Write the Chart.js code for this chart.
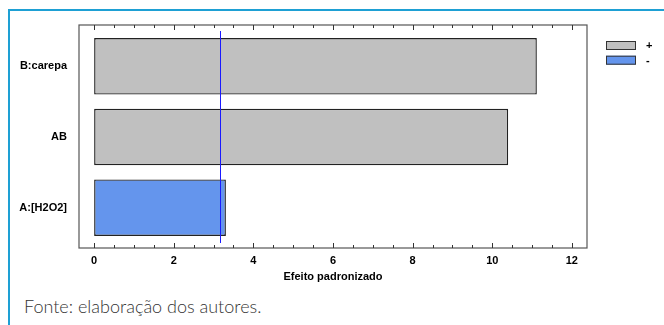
<!DOCTYPE html>
<html>
<head>
<meta charset="utf-8">
<script src="https://cdn.jsdelivr.net/npm/chart.js@4.4.0/dist/chart.umd.min.js"></script>
<style>
  html, body { margin: 0; padding: 0; background: #fff; }
  #wrap { position: relative; width: 664px; height: 325px; overflow: hidden; }
  #frame { position: absolute; left: 8px; top: 9px; width: 700px; height: 400px;
           border-top: 2px solid #1ea0d4; border-left: 2px solid #1ea0d4; }
  #chart { position: absolute; left: 0; top: 0; }
  #fonte { position: absolute; left: 24px; top: 295px; font-family: Lato, "Open Sans", sans-serif;
           font-weight: 300; font-size: 18px; color: #333; }
</style>
</head>
<body>
<div id="wrap">
  <div id="frame"></div>
  <canvas id="chart" width="664" height="284"></canvas>
  <div id="fonte">Fonte: elaboração dos autores.</div>
</div>
<script>
// categories + standardized effects
const factors = ['B:carepa', 'AB', 'A:[H2O2]'];
const effects = [11.12, 10.40, 3.31];
const signs = ['+', '+', '-'];
const xTicks = [0, 2, 4, 6, 8, 10, 12];
const criticalValue = 3.17;

const signColors = { '+': '#c0c0c0', '-': '#6495ed' };
const labelFont = { family: '"Liberation Sans", Arial, sans-serif', size: 11, weight: 'bold' };

// frame box, ticks, critical line and legend
const paretoFrame = {
  id: 'paretoFrame',
  afterDatasetsDraw(chart) {
    const { ctx, chartArea: a, scales: { x } } = chart;
    const top = a.top - 6, bottom = a.bottom + 5;
    ctx.save();
    // critical value line
    const lx = Math.round(x.getPixelForValue(criticalValue)) + 0.5;
    ctx.strokeStyle = '#1a1aff';
    ctx.lineWidth = 1;
    ctx.beginPath();
    ctx.moveTo(lx, a.top);
    ctx.lineTo(lx, a.bottom);
    ctx.stroke();

    // box
    ctx.strokeStyle = '#555';
    ctx.lineWidth = 1.2;
    ctx.strokeRect(a.left, top, a.right - a.left, bottom - top);

    // ticks top and bottom
    ctx.strokeStyle = '#333';
    ctx.lineWidth = 1;
    for (let v = 0; v <= 12; v += 0.5) {
      const px = Math.round(x.getPixelForValue(v)) + 0.5;
      const len = (v % 2 === 0) ? 5 : 3;
      ctx.beginPath();
      ctx.moveTo(px, bottom);
      ctx.lineTo(px, bottom - len);
      ctx.moveTo(px, top);
      ctx.lineTo(px, top + len);
      ctx.stroke();
    }

    // legend
    ctx.font = 'bold 11px "Liberation Sans", Arial, sans-serif';
    ctx.textBaseline = 'middle';
    ['+', '-'].forEach((s, i) => {
      const y = 41 + i * 14.7;
      ctx.fillStyle = signColors[s];
      ctx.fillRect(606, y, 30, 9);
      ctx.strokeStyle = '#333';
      ctx.lineWidth = 1;
      ctx.strokeRect(606.5, y + 0.5, 29, 8);
      ctx.fillStyle = '#000';
      ctx.fillText(s, 646, y + 5);
    });
    ctx.restore();
  }
};

new Chart(document.getElementById('chart'), {
  type: 'bar',
  data: {
    labels: factors,
    datasets: [{
      data: effects,
      backgroundColor: signs.map(s => signColors[s]),
      borderColor: '#222',
      borderWidth: 1.4,
      borderSkipped: false,
      barPercentage: 0.8,
      categoryPercentage: 1
    }]
  },
  options: {
    indexAxis: 'y',
    responsive: false,
    animation: false,
    layout: { padding: { left: 0, right: 77, top: 31, bottom: 0 } },
    plugins: { legend: { display: false }, tooltip: { enabled: false } },
    scales: {
      x: {
        min: -0.38,
        max: 12.38,
        afterBuildTicks: s => { s.ticks = xTicks.map(v => ({ value: v })); },
        afterFit: s => { s.height = 41; },
        grid: { display: false, drawTicks: false, tickLength: 0 },
        border: { display: false },
        ticks: { color: '#000', padding: 11, font: labelFont },
        title: {
          display: true,
          text: 'Efeito padronizado',
          color: '#000',
          padding: { top: 0, bottom: 0 },
          font: labelFont
        }
      },
      y: {
        offset: true,
        afterFit: s => { s.width = 79; },
        grid: { display: false, drawTicks: false, tickLength: 0 },
        border: { display: false },
        ticks: { color: '#000', padding: 12, font: labelFont }
      }
    }
  },
  plugins: [paretoFrame]
});
</script>
</body>
</html>
